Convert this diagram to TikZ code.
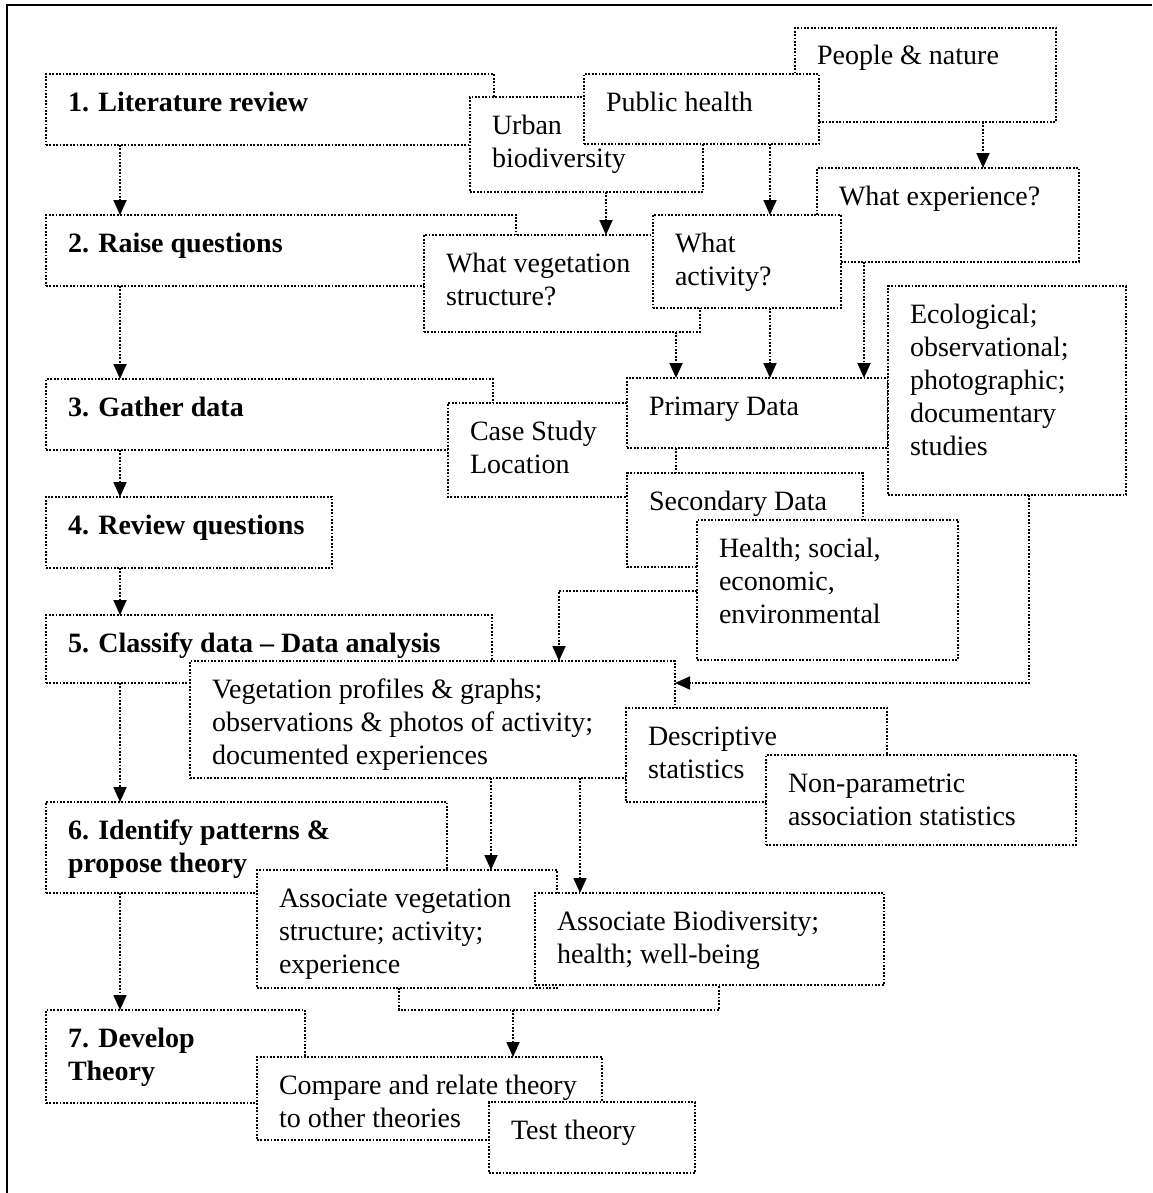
\documentclass[tikz,border=0pt]{standalone}
\usepackage{fontspec}
\setmainfont{Liberation Serif}
\usetikzlibrary{arrows.meta}
\newcommand{\boxtxt}[3]{\vbox to \dimexpr#2pt/2\relax{\hsize=\dimexpr#1pt/2\relax
  \hrule height0pt width0pt\vskip\dimexpr18.5pt-\ht\strutbox\relax
  \leftskip=11pt\rightskip=0pt plus 1fil\parindent=0pt\parfillskip=0pt plus 1fil
  \noindent\strut#3\par\vfill}}
\begin{document}
\begin{tikzpicture}[x=0.5pt,y=-0.5pt,
  box/.style={draw,line width=0.9pt,dash pattern=on 0.9pt off 0.8pt,fill=white,
    inner sep=0pt,outer sep=0pt,anchor=north west,font=\fontsize{14}{16.5}\selectfont},
  stepbox/.style={box,font=\fontsize{14}{16.5}\selectfont\bfseries},
  link/.style={line width=0.9pt,dash pattern=on 0.9pt off 0.8pt},
  flow/.style={link,-{Triangle[length=7.5pt,width=6.5pt]}}]
\useasboundingbox (0,0) rectangle (1152,1193);
\draw [line width=1pt] (7,1193) -- (7,5) -- (1152,5);
\node[box] (people) at (795,28) {\boxtxt{261}{94}{People \& nature}};
\node[stepbox] (lit) at (46,74) {\boxtxt{448}{71}{1. Literature review}};
\node[box] (urban) at (470,97) {\boxtxt{233}{95}{Urban\\biodiversity}};
\node[box] (pubhealth) at (584,74) {\boxtxt{235}{70}{Public health}};
\node[box] (experience) at (817,168) {\boxtxt{262}{94}{What experience?}};
\node[stepbox] (raise) at (46,215) {\boxtxt{470}{71}{2. Raise questions}};
\node[box] (vegq) at (424,235) {\boxtxt{276}{97}{What vegetation\\structure?}};
\node[box] (activity) at (653,215) {\boxtxt{188}{93}{What\\activity?}};
\node[stepbox] (gather) at (46,379) {\boxtxt{447}{71}{3. Gather data}};
\node[box,draw=none] (casestudy) at (448,403) {\boxtxt{179}{94}{Case Study\\Location}};
\draw[link] (casestudy.north east) -- (casestudy.north west) -- (casestudy.south west) -- (casestudy.south east);
\node[box] (primary) at (627,378) {\boxtxt{261}{70}{Primary Data}};
\node[box] (ecol) at (888,286) {\boxtxt{238}{209}{Ecological;\\observational;\\photographic;\\documentary\\studies}};
\node[box] (secondary) at (627,473) {\boxtxt{236}{94}{Secondary Data}};
\node[box] (socio) at (697,520) {\boxtxt{261}{140}{Health; social,\\economic,\\environmental}};
\node[stepbox] (review) at (46,497) {\boxtxt{286}{71}{4. Review questions}};
\node[stepbox] (classify) at (46,615) {\boxtxt{446}{68}{5. Classify data -- Data analysis}};
\node[box] (vegprof) at (190,661) {\boxtxt{485}{117}{Vegetation profiles \& graphs;\\observations \& photos of activity;\\documented experiences}};
\node[box] (descr) at (626,708) {\boxtxt{261}{94}{Descriptive\\statistics}};
\node[box] (nonpar) at (766,755) {\boxtxt{310}{90}{Non-parametric\\association statistics}};
\node[stepbox] (identify) at (46,802) {\boxtxt{401}{91}{6. Identify patterns \&\\propose theory}};
\node[box] (assocveg) at (257,870) {\boxtxt{300}{118}{Associate vegetation\\structure; activity;\\experience}};
\node[box] (assocbio) at (535,893) {\boxtxt{349}{92}{Associate Biodiversity;\\health; well-being}};
\node[stepbox] (develop) at (46,1010) {\boxtxt{259}{93}{7. Develop\\Theory}};
\node[box] (compare) at (257,1057) {\boxtxt{345}{83}{Compare and relate theory\\to other theories}};
\node[box] (test) at (489,1102) {\boxtxt{206}{71}{Test theory}};
\draw[flow] (120,0 |- lit.south) -- (120,0 |- raise.north);
\draw[flow] (120,0 |- raise.south) -- (120,0 |- gather.north);
\draw[flow] (120,0 |- gather.south) -- (120,0 |- review.north);
\draw[flow] (120,0 |- review.south) -- (120,0 |- classify.north);
\draw[flow] (120,0 |- classify.south) -- (120,0 |- identify.north);
\draw[flow] (120,0 |- identify.south) -- (120,0 |- develop.north);
\draw[flow] (606,0 |- urban.south) -- (606,0 |- vegq.north);
\draw[flow] (770,0 |- pubhealth.south) -- (770,0 |- activity.north);
\draw[flow] (983,0 |- people.south) -- (983,0 |- experience.north);
\draw[flow] (676,0 |- vegq.south) -- (676,0 |- primary.north);
\draw[flow] (770,0 |- activity.south) -- (770,0 |- primary.north);
\draw[flow] (864,0 |- experience.south) -- (864,0 |- primary.north);
\draw[link] (676,0 |- primary.south) -- (676,0 |- secondary.north);
\draw[flow] (socio.west |- 0,591) -- (559,591) -- (559,0 |- vegprof.north);
\draw[flow] (1029,0 |- ecol.south) -- (1029,683) -- (vegprof.east |- 0,683);
\draw[flow] (491,0 |- vegprof.south) -- (491,0 |- assocveg.north);
\draw[flow] (580,0 |- vegprof.south) -- (580,0 |- assocbio.north);
\draw[link] (399,0 |- assocveg.south) -- (399,1010) -- (719,1010) -- (719,0 |- assocbio.south);
\coordinate (join) at (513,1010);
\draw[flow] (join) -- (join |- compare.north);
\end{tikzpicture}
\end{document}
